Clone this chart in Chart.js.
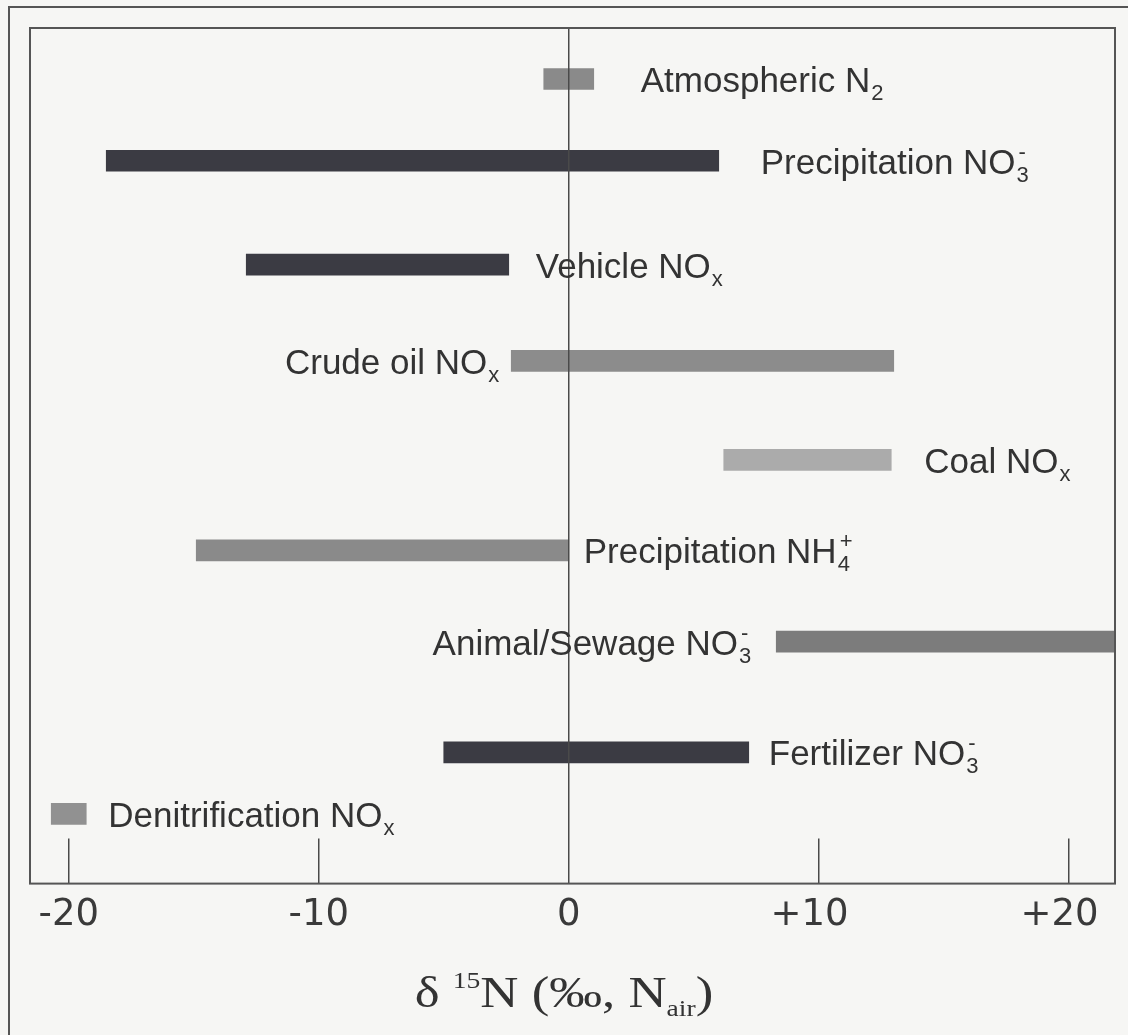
<!DOCTYPE html>
<html>
<head>
<meta charset="utf-8">
<script src="https://cdn.jsdelivr.net/npm/chart.js@4.4.1/dist/chart.umd.min.js"></script>
<style>
  html, body { margin: 0; padding: 0; background: #f6f6f4; overflow: hidden; }
  #frame { position: absolute; left: 8px; top: 6px; width: 1200px; height: 1100px; border: 2px solid #555; box-sizing: border-box; }
  #wrap { position: absolute; left: 0; top: 0; width: 1128px; height: 1035px; }
</style>
</head>
<body>
<div id="frame"></div>
<div id="wrap"><canvas id="chart"></canvas></div>
<script>
// source names (main text), subscripts and superscripts
const sources = ['Atmospheric N', 'Precipitation NO', 'Vehicle NO', 'Crude oil NO', 'Coal NO',
  'Precipitation NH', 'Animal/Sewage NO', 'Fertilizer NO', 'Denitrification NO'];
const subs = ['2', '3', 'x', 'x', 'x', '4', '3', '3', 'x'];
const sups = ['', '-', '', '', '', '+', '-', '-', ''];

// d15N range of each source (per mil)
const lowVals = [-1, -18.5, -12.9, -2.3, 6.2, -14.9, 8.3, -5, -20.7];
const highVals = [1, 6, -2.4, 13, 12.9, 0, 22, 7.2, -19.3];

// vertical row of each source (0 = top)
const rows = [0, 0.85, 1.93, 2.93, 3.96, 4.9, 5.85, 7, 7.64];

const xTicks = [-20, -10, 0, 10, 20];

// styling
const barColors = ['#8a8a8a', '#3b3b43', '#3b3b43', '#8c8c8c', '#ababab', '#8a8a8a', '#7c7c7c', '#3b3b43', '#919191'];
const labelSide = ['right', 'right', 'right', 'left', 'right', 'right', 'left', 'right', 'right'];
const labelGap = [47, 42, 27, 12, 33, 15, 25, 20, 22];

const textColor = '#333';
const sansFont = '"Liberation Sans", Arial, sans-serif';
const tickFont = '"DejaVu Sans", Verdana, sans-serif';
const serifFont = '"Liberation Serif", "Times New Roman", serif';

// draws text with a subscript and/or superscript
function drawScripted(ctx, x, y, main, sub, sup, size, smallSize, subDy, supDy) {
  ctx.font = size + 'px ' + sansFont;
  ctx.fillText(main, x, y);
  const w = ctx.measureText(main).width;
  ctx.font = smallSize + 'px ' + sansFont;
  if (sub) ctx.fillText(sub, x + w + 1, y + subDy);
  if (sup) ctx.fillText(sup, x + w + 3, y + supDy);
}

const framePlugin = {
  id: 'frame',
  afterDatasetsDraw(chart) {
    const { ctx, chartArea } = chart;
    const xs = chart.scales.x;
    ctx.save();
    ctx.strokeStyle = '#4a4a4a';
    // zero line across the whole plot
    ctx.lineWidth = 1.5;
    const x0 = xs.getPixelForValue(0);
    ctx.beginPath();
    ctx.moveTo(x0, chartArea.top);
    ctx.lineTo(x0, chartArea.bottom);
    ctx.stroke();
    // short inward ticks
    xs.ticks.forEach(t => {
      if (t.value === 0) return;
      const px = xs.getPixelForValue(t.value);
      ctx.beginPath();
      ctx.moveTo(px, chartArea.bottom - 45);
      ctx.lineTo(px, chartArea.bottom);
      ctx.stroke();
    });
    // plot border
    ctx.lineWidth = 2;
    ctx.strokeStyle = '#555';
    ctx.strokeRect(chartArea.left, chartArea.top, chartArea.right - chartArea.left, chartArea.bottom - chartArea.top);
    ctx.restore();
  }
};

const labelPlugin = {
  id: 'barLabels',
  afterDatasetsDraw(chart) {
    const ctx = chart.ctx;
    const meta = chart.getDatasetMeta(0);
    ctx.save();
    ctx.fillStyle = textColor;
    ctx.textBaseline = 'alphabetic';
    ctx.textAlign = 'left';
    meta.data.forEach((bar, i) => {
      const { x, y, base } = bar.getProps(['x', 'y', 'base'], true);
      const left = Math.min(x, base);
      const right = Math.min(Math.max(x, base), chart.chartArea.right);
      ctx.font = '35px ' + sansFont;
      const wMain = ctx.measureText(sources[i]).width;
      ctx.font = '22px ' + sansFont;
      const wSmall = Math.max(ctx.measureText(subs[i]).width, ctx.measureText(sups[i]).width + 2);
      const total = wMain + wSmall + 1;
      const tx = labelSide[i] === 'left' ? left - labelGap[i] - total : right + labelGap[i];
      drawScripted(ctx, tx, y + 13, sources[i], subs[i], sups[i], 35, 22, 8, -15);
    });
    ctx.restore();
  }
};

const titlePlugin = {
  id: 'axisTitle',
  afterDraw(chart) {
    const ctx = chart.ctx;
    const big = '44px ' + serifFont;
    const small = '23px ' + serifFont;
    const parts = [
      { t: '\u03b4 ', f: big, dy: 0 },
      { t: '15', f: small, dy: -19 },
      { t: 'N (\u2030, N', f: big, dy: 0 },
      { t: 'air', f: small, dy: 9 },
      { t: ')', f: big, dy: 0 }
    ];
    const stretch = 1.2;
    ctx.save();
    ctx.fillStyle = textColor;
    ctx.textBaseline = 'alphabetic';
    let total = 0;
    parts.forEach(p => { ctx.font = p.f; total += ctx.measureText(p.t).width; });
    ctx.translate(chart.width / 2 - total * stretch / 2, 1007);
    ctx.scale(stretch, 1);
    let x = 0;
    parts.forEach(p => {
      ctx.font = p.f;
      ctx.fillText(p.t, x, p.dy);
      x += ctx.measureText(p.t).width;
    });
    ctx.restore();
  }
};

const barData = sources.map((s, i) => ({ x: [lowVals[i], highVals[i]], y: rows[i] }));

new Chart(document.getElementById('chart'), {
  type: 'bar',
  data: {
    datasets: [{
      data: barData,
      backgroundColor: barColors,
      borderWidth: 0,
      barThickness: 21
    }]
  },
  options: {
    indexAxis: 'y',
    responsive: true,
    maintainAspectRatio: false,
    animation: false,
    layout: { padding: { left: 30, right: 13, top: 28, bottom: 95 } },
    plugins: {
      legend: { display: false },
      tooltip: { enabled: false }
    },
    scales: {
      x: {
        type: 'linear',
        min: -21.55,
        max: 21.85,
        grid: { display: false },
        border: { display: false },
        afterBuildTicks: (scale) => { scale.ticks = xTicks.map(v => ({ value: v })); },
        ticks: {
          padding: 2,
          color: '#3a3a3a',
          font: { family: tickFont, size: 37 },
          callback: (v) => (v > 0 ? '+' + v + '\u2002' : String(v))
        }
      },
      y: {
        type: 'linear',
        display: false,
        reverse: true,
        offset: false,
        min: -0.53,
        max: 8.365
      }
    }
  },
  plugins: [framePlugin, labelPlugin, titlePlugin]
});
</script>
</body>
</html>
